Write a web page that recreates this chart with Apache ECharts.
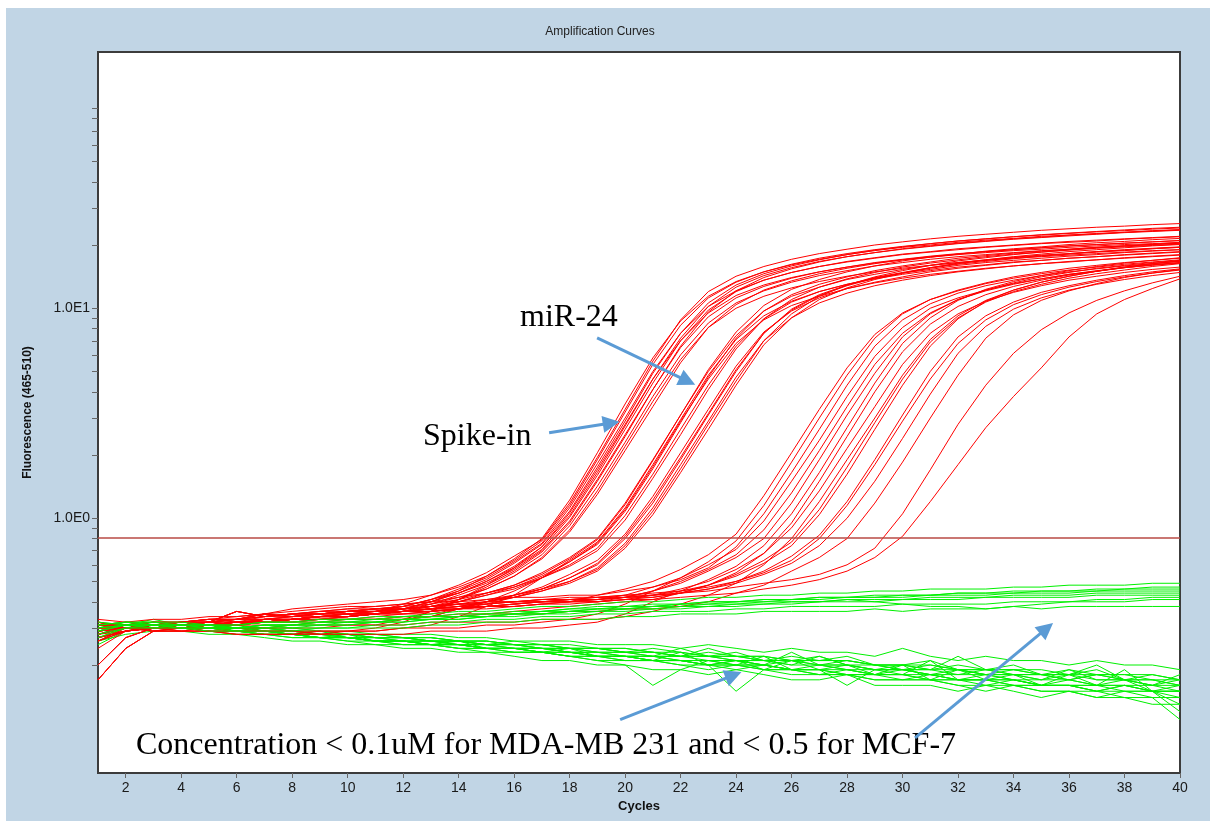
<!DOCTYPE html>
<html>
<head>
<meta charset="utf-8">
<title>Amplification Curves</title>
<script src="https://cdn.jsdelivr.net/npm/echarts@6.0.0/dist/echarts.min.js"></script>
<style>
  html, body { margin: 0; padding: 0; background: #fff; }
  #chart { position: absolute; left: 6px; top: 8px; width: 1204px; height: 813px; }
</style>
</head>
<body>
<div id="chart"></div>
<script>
// cycle numbers 1..40
const cycles = [1,2,3,4,5,6,7,8,9,10,11,12,13,14,15,16,17,18,19,20,
  21,22,23,24,25,26,27,28,29,30,31,32,33,34,35,36,37,38,39,40];

const xTickValues = [2,4,6,8,10,12,14,16,18,20,22,24,26,28,30,32,34,36,38,40];
const yTickValues = [0.2,0.3,0.4,0.5,0.6,0.7,0.8,0.9,1,2,3,4,5,6,7,8,9,10,20,30,40,50,60,70,80,90];
const yLabelValues = [1, 10];
const threshold = 0.81;

// spike-in curves (earliest bundle)
const spikeInCurves = [
  [0.30,0.31,0.30,0.31,0.32,0.31,0.33,0.33,0.34,0.34,
   0.35,0.37,0.40,0.45,0.53,0.64,0.80,1.22,2.05,3.5,
   5.8,8.7,11.4,13.4,14.9,16.1,17.1,18.0,18.8,19.5,
   20.0,20.6,21.1,21.5,22.0,22.3,22.6,23.0,23.3,23.6],
  [0.27,0.29,0.30,0.31,0.31,0.32,0.32,0.33,0.34,0.35,
   0.35,0.37,0.40,0.44,0.49,0.57,0.70,0.97,1.53,2.5,
   4.1,6.5,9.1,11.2,12.7,13.9,14.9,15.7,16.5,17.1,
   17.7,18.2,18.6,19.0,19.4,19.8,20.1,20.4,20.7,21.0],
  [0.32,0.30,0.31,0.32,0.32,0.33,0.35,0.34,0.35,0.36,
   0.36,0.38,0.41,0.46,0.52,0.62,0.76,1.12,1.82,3.0,
   5.0,7.6,10.2,12.1,13.6,14.8,15.8,16.7,17.4,18.1,
   18.6,19.2,19.6,20.0,20.4,20.8,21.1,21.4,21.7,22.0],
  [0.28,0.30,0.31,0.31,0.32,0.36,0.34,0.35,0.35,0.36,
   0.37,0.38,0.41,0.45,0.51,0.61,0.75,1.08,1.75,2.9,
   4.9,7.6,10.6,12.9,14.6,15.9,17.0,18.0,18.9,19.6,
   20.3,20.9,21.4,21.9,22.4,22.8,23.2,23.6,24.0,24.3],
  [0.29,0.30,0.29,0.29,0.29,0.28,0.28,0.28,0.29,0.29,
   0.30,0.32,0.36,0.41,0.47,0.55,0.67,0.92,1.42,2.3,
   3.8,6.0,8.5,10.6,12.1,13.3,14.3,15.1,15.9,16.5,
   17.1,17.6,18.0,18.4,18.8,19.1,19.5,19.8,20.1,20.4],
  [0.17,0.24,0.29,0.30,0.31,0.32,0.32,0.33,0.34,0.34,
   0.35,0.37,0.40,0.44,0.50,0.59,0.73,1.03,1.65,2.75,
   4.6,7.2,10.2,12.6,14.3,15.6,16.7,17.6,18.4,19.1,
   19.7,20.3,20.8,21.3,21.7,22.1,22.5,22.9,23.2,23.5],
  [0.20,0.27,0.30,0.30,0.31,0.31,0.32,0.33,0.33,0.34,
   0.35,0.36,0.39,0.42,0.46,0.53,0.64,0.86,1.30,2.1,
   3.4,5.5,8.1,10.4,12.2,13.5,14.6,15.5,16.3,17.0,
   17.6,18.1,18.6,19.0,19.4,19.8,20.1,20.4,20.7,21.0],
  [0.31,0.32,0.31,0.32,0.33,0.32,0.34,0.34,0.35,0.35,
   0.36,0.39,0.43,0.48,0.55,0.66,0.79,1.18,1.95,3.3,
   5.6,8.8,12.0,14.2,15.8,17.1,18.2,19.1,20.0,20.7,
   21.4,22.0,22.5,23.0,23.5,23.9,24.3,24.6,25.0,25.3],
  [0.24,0.29,0.31,0.32,0.33,0.34,0.35,0.37,0.38,0.39,
   0.40,0.41,0.43,0.47,0.53,0.63,0.78,1.15,1.90,3.2,
   5.4,8.3,11.2,13.3,14.9,16.2,17.3,18.2,19.0,19.7,
   20.3,20.9,21.4,21.9,22.3,22.7,23.1,23.4,23.8,24.1],
  [0.30,0.30,0.29,0.29,0.30,0.29,0.30,0.30,0.30,0.31,
   0.31,0.33,0.36,0.41,0.48,0.58,0.73,1.06,1.70,2.8,
   4.6,7.0,9.5,11.5,12.9,14.0,14.9,15.7,16.4,17.0,
   17.5,18.0,18.4,18.8,19.1,19.5,19.8,20.1,20.3,20.6],
  [0.31,0.31,0.32,0.32,0.33,0.33,0.34,0.35,0.36,0.36,
   0.37,0.38,0.41,0.44,0.50,0.58,0.71,1.01,1.60,2.65,
   4.4,7.0,9.8,12.0,13.6,14.8,15.8,16.6,17.3,18.0,
   18.5,19.0,19.5,19.9,20.3,20.6,20.9,21.3,21.6,21.9],
  [0.26,0.30,0.31,0.31,0.32,0.33,0.33,0.34,0.35,0.35,
   0.36,0.37,0.39,0.43,0.48,0.56,0.69,0.95,1.50,2.45,
   4.1,6.6,9.6,12.1,14.0,15.4,16.6,17.6,18.4,19.2,
   19.8,20.4,20.9,21.4,21.8,22.3,22.7,23.0,23.4,23.7],
  [0.29,0.31,0.31,0.31,0.32,0.32,0.33,0.33,0.34,0.34,
   0.35,0.36,0.38,0.41,0.46,0.53,0.65,0.88,1.35,2.2,
   3.6,5.7,8.1,10.0,11.4,12.5,13.4,14.2,14.9,15.5,
   16.0,16.5,16.9,17.3,17.6,17.9,18.2,18.5,18.8,19.0]
];

// miR-24 curves (second bundle)
const mir24Curves = [
  [0.27,0.29,0.30,0.31,0.31,0.32,0.32,0.33,0.34,0.35,
   0.35,0.36,0.37,0.40,0.44,0.48,0.55,0.65,0.80,1.18,
   1.90,3.1,5.0,7.4,9.7,11.4,12.6,13.7,14.5,15.3,
   16.0,16.5,17.0,17.5,17.9,18.2,18.6,18.9,19.2,19.5],
  [0.30,0.30,0.29,0.29,0.29,0.28,0.28,0.28,0.28,0.29,
   0.29,0.30,0.31,0.34,0.38,0.43,0.52,0.63,0.77,1.12,
   1.80,2.95,4.8,7.1,9.2,10.8,12.0,13.0,13.8,14.5,
   15.1,15.7,16.1,16.6,16.9,17.3,17.6,17.9,18.2,18.5],
  [0.28,0.30,0.31,0.31,0.32,0.36,0.34,0.35,0.35,0.36,
   0.37,0.37,0.38,0.40,0.43,0.47,0.53,0.62,0.75,1.08,
   1.72,2.85,4.7,7.2,9.7,11.6,13.0,14.1,15.1,15.9,
   16.6,17.3,17.8,18.3,18.7,19.1,19.5,19.8,20.1,20.4],
  [0.32,0.30,0.31,0.32,0.32,0.33,0.35,0.34,0.35,0.36,
   0.36,0.37,0.38,0.40,0.43,0.46,0.52,0.60,0.72,1.03,
   1.62,2.65,4.3,6.6,8.9,10.7,12.0,13.0,13.9,14.7,
   15.3,16.0,16.5,16.9,17.3,17.7,18.0,18.4,18.7,19.0],
  [0.29,0.30,0.31,0.31,0.31,0.32,0.32,0.32,0.33,0.33,
   0.33,0.34,0.34,0.37,0.40,0.43,0.47,0.54,0.63,0.84,
   1.27,2.05,3.3,5.3,7.7,9.7,11.2,12.4,13.3,14.1,
   14.9,15.5,16.0,16.5,16.9,17.3,17.6,18.0,18.3,18.6],
  [0.17,0.24,0.29,0.30,0.31,0.32,0.32,0.33,0.34,0.34,
   0.35,0.36,0.37,0.38,0.40,0.43,0.46,0.52,0.60,0.80,
   1.18,1.90,3.1,5.0,7.6,9.9,11.6,12.9,14.0,14.8,
   15.6,16.3,16.9,17.4,17.8,18.2,18.6,19.0,19.3,19.6],
  [0.20,0.27,0.30,0.30,0.31,0.31,0.32,0.33,0.33,0.34,
   0.35,0.35,0.36,0.37,0.39,0.42,0.45,0.50,0.58,0.76,
   1.12,1.80,2.9,4.7,7.0,9.0,10.6,11.8,12.8,13.6,
   14.3,14.9,15.4,15.9,16.3,16.7,17.0,17.4,17.7,18.0],
  [0.27,0.29,0.30,0.31,0.31,0.32,0.32,0.33,0.34,0.35,
   0.35,0.36,0.37,0.38,0.40,0.42,0.45,0.49,0.56,0.72,
   1.04,1.65,2.65,4.3,6.7,9.0,11.0,12.5,13.7,14.7,
   15.6,16.4,17.0,17.6,18.1,18.6,19.0,19.4,19.8,20.1],
  [0.31,0.31,0.32,0.32,0.33,0.33,0.34,0.35,0.36,0.37,
   0.37,0.38,0.39,0.41,0.44,0.48,0.54,0.64,0.79,1.16,
   1.88,3.1,5.1,7.7,10.3,12.3,13.7,14.9,15.9,16.8,
   17.5,18.1,18.7,19.2,19.6,20.1,20.5,20.8,21.2,21.5],
  [0.28,0.29,0.30,0.30,0.30,0.31,0.31,0.31,0.32,0.32,
   0.32,0.33,0.34,0.37,0.40,0.45,0.52,0.62,0.76,1.10,
   1.76,2.9,4.6,6.8,8.8,10.3,11.4,12.4,13.2,13.9,
   14.5,15.0,15.5,15.9,16.3,16.6,17.0,17.3,17.6,17.9],
  [0.33,0.32,0.33,0.33,0.34,0.34,0.35,0.36,0.37,0.38,
   0.38,0.39,0.40,0.42,0.44,0.47,0.52,0.59,0.70,0.98,
   1.55,2.5,4.1,6.4,8.9,11.0,12.6,13.8,14.8,15.7,
   16.4,17.0,17.6,18.1,18.5,18.9,19.3,19.6,19.9,20.2],
  [0.26,0.29,0.30,0.30,0.31,0.31,0.32,0.32,0.33,0.33,
   0.34,0.35,0.35,0.37,0.40,0.42,0.46,0.52,0.61,0.82,
   1.22,1.95,3.15,5.1,7.6,9.8,11.5,12.8,13.9,14.7,
   15.5,16.2,16.7,17.2,17.7,18.1,18.5,18.8,19.2,19.5],
  [0.30,0.30,0.31,0.31,0.32,0.32,0.33,0.34,0.34,0.35,
   0.36,0.36,0.37,0.39,0.41,0.43,0.46,0.50,0.57,0.74,
   1.08,1.72,2.8,4.5,7.0,9.4,11.4,12.9,14.1,15.1,
   16.0,16.8,17.4,18.0,18.5,19.0,19.4,19.8,20.2,20.5]
];

// sample curves (late bundle)
const sampleCurves = [
  [0.30,0.31,0.30,0.31,0.32,0.31,0.33,0.33,0.34,0.34,
   0.35,0.36,0.36,0.37,0.38,0.39,0.40,0.40,0.43,0.46,
   0.50,0.57,0.67,0.84,1.28,2.05,3.3,5.2,7.5,9.5,
   11.0,12.1,13.1,13.9,14.6,15.2,15.7,16.2,16.6,17.0],
  [0.29,0.30,0.30,0.29,0.29,0.29,0.29,0.29,0.29,0.29,
   0.29,0.30,0.30,0.30,0.31,0.31,0.32,0.33,0.35,0.39,
   0.45,0.52,0.62,0.78,1.15,1.85,3.0,4.8,7.2,9.4,
   11.0,12.2,13.2,14.1,14.8,15.5,16.0,16.5,16.9,17.3],
  [0.28,0.30,0.31,0.31,0.32,0.36,0.34,0.35,0.35,0.36,
   0.37,0.37,0.38,0.39,0.40,0.40,0.41,0.41,0.41,0.43,
   0.47,0.52,0.60,0.71,0.97,1.50,2.35,3.8,5.9,8.1,
   10.0,11.2,12.2,13.1,13.8,14.5,15.0,15.6,16.0,16.4],
  [0.32,0.30,0.31,0.32,0.32,0.33,0.35,0.34,0.35,0.36,
   0.36,0.37,0.38,0.39,0.39,0.40,0.40,0.41,0.40,0.42,
   0.45,0.50,0.57,0.67,0.88,1.32,2.1,3.4,5.4,7.6,
   9.5,11.0,12.1,13.0,13.8,14.5,15.1,15.6,16.1,16.5],
  [0.17,0.24,0.29,0.30,0.31,0.32,0.32,0.33,0.34,0.34,
   0.35,0.36,0.37,0.38,0.38,0.39,0.40,0.41,0.41,0.42,
   0.45,0.49,0.56,0.65,0.80,1.18,1.90,3.1,4.9,7.3,
   9.4,11.0,12.2,13.2,14.1,14.8,15.5,16.0,16.5,16.9],
  [0.29,0.30,0.30,0.30,0.29,0.29,0.29,0.29,0.28,0.28,
   0.28,0.28,0.29,0.29,0.29,0.30,0.30,0.31,0.32,0.35,
   0.40,0.45,0.51,0.59,0.74,1.05,1.65,2.7,4.4,6.8,
   9.0,10.9,12.3,13.4,14.3,15.1,15.8,16.4,16.9,17.4],
  [0.20,0.27,0.30,0.30,0.31,0.31,0.32,0.33,0.33,0.34,
   0.35,0.35,0.36,0.37,0.37,0.38,0.39,0.39,0.40,0.41,
   0.43,0.46,0.50,0.57,0.68,0.90,1.35,2.15,3.4,5.4,
   7.6,9.4,10.8,11.9,12.8,13.6,14.2,14.8,15.3,15.7],
  [0.27,0.29,0.30,0.31,0.31,0.32,0.32,0.33,0.34,0.35,
   0.35,0.36,0.37,0.37,0.38,0.38,0.39,0.40,0.40,0.41,
   0.42,0.44,0.48,0.54,0.63,0.77,1.10,1.75,2.85,4.6,
   6.9,9.0,10.7,12.0,13.0,13.9,14.6,15.2,15.8,16.3],
  [0.30,0.31,0.30,0.31,0.32,0.31,0.33,0.33,0.34,0.34,
   0.35,0.36,0.36,0.37,0.38,0.39,0.40,0.40,0.41,0.42,
   0.43,0.45,0.48,0.53,0.61,0.74,1.04,1.62,2.65,4.3,
   6.6,8.9,10.8,12.2,13.3,14.2,15.0,15.7,16.3,16.8],
  [0.28,0.30,0.31,0.31,0.32,0.36,0.34,0.35,0.35,0.36,
   0.37,0.37,0.38,0.39,0.40,0.40,0.41,0.41,0.42,0.42,
   0.42,0.44,0.46,0.50,0.56,0.66,0.83,1.20,1.90,3.1,
   5.0,7.3,9.2,10.7,11.9,12.8,13.6,14.3,14.9,15.4],
  [0.32,0.30,0.31,0.32,0.32,0.33,0.35,0.34,0.35,0.36,
   0.36,0.37,0.38,0.39,0.39,0.40,0.41,0.42,0.42,0.43,
   0.43,0.44,0.46,0.49,0.54,0.61,0.74,1.00,1.50,2.4,
   3.9,6.1,8.2,9.9,11.2,12.2,13.0,13.7,14.3,14.8],
  [0.29,0.30,0.31,0.31,0.31,0.32,0.32,0.32,0.33,0.33,
   0.33,0.34,0.34,0.34,0.35,0.35,0.35,0.36,0.36,0.37,
   0.37,0.38,0.40,0.44,0.48,0.56,0.65,0.80,1.18,1.85,
   3.0,4.8,7.2,9.3,10.9,12.1,13.1,14.0,14.7,15.3],
  [0.31,0.31,0.32,0.32,0.33,0.33,0.34,0.35,0.36,0.37,
   0.38,0.39,0.40,0.40,0.41,0.42,0.42,0.43,0.43,0.45,
   0.47,0.51,0.58,0.73,1.05,1.65,2.65,4.3,6.6,8.8,
   10.5,11.8,12.8,13.6,14.3,14.9,15.4,15.9,16.3,16.7],
  [0.29,0.30,0.30,0.31,0.31,0.31,0.32,0.32,0.32,0.33,
   0.33,0.33,0.34,0.35,0.35,0.36,0.37,0.38,0.39,0.40,
   0.41,0.44,0.48,0.55,0.68,0.95,1.50,2.45,4.0,6.2,
   8.4,10.2,11.6,12.7,13.6,14.4,15.0,15.6,16.1,16.5],
  [0.26,0.29,0.30,0.30,0.30,0.30,0.30,0.31,0.31,0.31,
   0.31,0.31,0.32,0.32,0.32,0.32,0.33,0.33,0.33,0.34,
   0.36,0.39,0.43,0.49,0.60,0.80,1.20,1.90,3.0,4.8,
   7.1,9.2,10.9,12.2,13.3,14.2,15.0,15.7,16.3,16.8],
  [0.30,0.31,0.31,0.32,0.32,0.33,0.33,0.34,0.35,0.35,
   0.36,0.37,0.37,0.38,0.39,0.40,0.40,0.41,0.42,0.43,
   0.44,0.45,0.47,0.50,0.55,0.63,0.80,1.15,1.80,2.9,
   4.6,6.8,8.8,10.4,11.6,12.6,13.4,14.1,14.7,15.2],
  [0.27,0.29,0.30,0.31,0.31,0.32,0.32,0.33,0.34,0.35,
   0.35,0.36,0.37,0.37,0.38,0.38,0.39,0.40,0.40,0.41,
   0.41,0.42,0.43,0.44,0.46,0.48,0.51,0.56,0.65,0.82,
   1.2,1.8,2.7,3.8,5.2,7.3,9.4,11.0,12.4,13.8],
  [0.30,0.31,0.30,0.31,0.32,0.31,0.33,0.33,0.34,0.34,
   0.35,0.36,0.36,0.37,0.38,0.39,0.40,0.40,0.41,0.42,
   0.43,0.44,0.45,0.47,0.49,0.51,0.54,0.60,0.72,1.05,
   1.7,2.8,4.3,6.1,7.9,9.5,10.9,12.1,13.2,14.2]
];

// negative wells, falling baseline (lower green band)
const negLowCurves = [
  [0.27,0.30,0.32,0.31,0.30,0.30,0.29,0.28,0.28,0.27,
   0.27,0.26,0.26,0.25,0.25,0.24,0.24,0.23,0.23,0.22,
   0.22,0.22,0.21,0.21,0.20,0.21,0.20,0.19,0.19,0.19,
   0.18,0.19,0.18,0.18,0.17,0.18,0.17,0.17,0.16,0.16],
  [0.30,0.32,0.31,0.31,0.31,0.30,0.30,0.29,0.28,0.28,
   0.27,0.27,0.27,0.26,0.26,0.25,0.25,0.24,0.24,0.23,
   0.24,0.23,0.22,0.22,0.21,0.22,0.21,0.21,0.20,0.20,
   0.19,0.20,0.19,0.19,0.18,0.19,0.18,0.18,0.17,0.17],
  [0.25,0.29,0.30,0.30,0.29,0.29,0.28,0.27,0.27,0.26,
   0.26,0.25,0.25,0.24,0.24,0.23,0.23,0.22,0.22,0.21,
   0.21,0.20,0.20,0.19,0.20,0.19,0.19,0.18,0.18,0.17,
   0.18,0.17,0.17,0.16,0.16,0.16,0.15,0.16,0.15,0.15],
  [0.28,0.31,0.33,0.31,0.30,0.31,0.29,0.28,0.29,0.27,
   0.27,0.27,0.26,0.26,0.25,0.25,0.24,0.24,0.23,0.23,
   0.22,0.24,0.22,0.21,0.21,0.20,0.22,0.20,0.19,0.20,
   0.19,0.18,0.19,0.18,0.17,0.19,0.17,0.17,0.16,0.17],
  [0.31,0.30,0.31,0.30,0.30,0.29,0.28,0.28,0.27,0.27,
   0.26,0.26,0.25,0.25,0.24,0.24,0.23,0.23,0.22,0.22,
   0.21,0.21,0.20,0.20,0.19,0.19,0.18,0.19,0.18,0.18,
   0.17,0.17,0.16,0.17,0.16,0.16,0.15,0.15,0.15,0.14],
  [0.26,0.30,0.31,0.31,0.30,0.30,0.29,0.29,0.28,0.28,
   0.27,0.27,0.26,0.26,0.25,0.26,0.25,0.24,0.24,0.23,
   0.23,0.22,0.23,0.22,0.21,0.21,0.20,0.21,0.20,0.19,
   0.19,0.19,0.18,0.18,0.18,0.17,0.18,0.17,0.17,0.16],
  [0.29,0.31,0.30,0.31,0.30,0.29,0.29,0.28,0.27,0.27,
   0.26,0.26,0.26,0.25,0.24,0.24,0.24,0.23,0.22,0.22,
   0.22,0.21,0.20,0.21,0.20,0.19,0.20,0.19,0.18,0.19,
   0.18,0.17,0.18,0.17,0.16,0.17,0.16,0.16,0.15,0.13],
  [0.30,0.32,0.32,0.31,0.31,0.30,0.29,0.29,0.28,0.28,
   0.27,0.27,0.26,0.26,0.25,0.25,0.24,0.24,0.23,0.23,
   0.22,0.22,0.22,0.21,0.21,0.20,0.20,0.20,0.19,0.19,
   0.18,0.18,0.18,0.17,0.17,0.17,0.16,0.16,0.16,0.15],
  [0.27,0.29,0.31,0.30,0.29,0.28,0.28,0.27,0.27,0.26,
   0.25,0.25,0.25,0.24,0.23,0.23,0.23,0.22,0.21,0.21,
   0.21,0.20,0.19,0.20,0.19,0.18,0.18,0.18,0.17,0.17,
   0.17,0.16,0.16,0.16,0.15,0.15,0.15,0.14,0.14,0.14],
  [0.29,0.31,0.31,0.30,0.30,0.29,0.29,0.28,0.28,0.27,
   0.26,0.26,0.25,0.25,0.24,0.24,0.23,0.22,0.21,0.20,
   0.16,0.19,0.21,0.20,0.20,0.19,0.19,0.18,0.18,0.18,
   0.17,0.17,0.17,0.16,0.16,0.16,0.15,0.16,0.15,0.15],
  [0.28,0.30,0.31,0.31,0.30,0.30,0.29,0.28,0.28,0.27,
   0.27,0.26,0.26,0.25,0.25,0.24,0.24,0.23,0.23,0.22,
   0.22,0.21,0.21,0.21,0.20,0.23,0.20,0.20,0.19,0.19,
   0.19,0.22,0.19,0.18,0.18,0.18,0.20,0.17,0.17,0.16],
  [0.30,0.31,0.30,0.30,0.30,0.29,0.28,0.28,0.27,0.27,
   0.26,0.26,0.25,0.25,0.24,0.24,0.24,0.23,0.22,0.22,
   0.21,0.21,0.21,0.20,0.20,0.19,0.19,0.16,0.19,0.18,
   0.18,0.17,0.17,0.17,0.16,0.16,0.16,0.15,0.15,0.12],
  [0.31,0.32,0.31,0.31,0.31,0.30,0.30,0.29,0.29,0.28,
   0.28,0.27,0.27,0.26,0.26,0.25,0.25,0.24,0.24,0.24,
   0.23,0.23,0.22,0.22,0.22,0.21,0.21,0.21,0.20,0.20,
   0.20,0.19,0.19,0.19,0.19,0.18,0.18,0.18,0.18,0.17],
  [0.26,0.29,0.30,0.30,0.30,0.29,0.28,0.28,0.27,0.27,
   0.26,0.25,0.25,0.24,0.24,0.23,0.23,0.22,0.22,0.21,
   0.21,0.21,0.20,0.20,0.22,0.19,0.19,0.19,0.18,0.18,
   0.21,0.17,0.17,0.17,0.16,0.16,0.16,0.19,0.15,0.15],
  [0.32,0.31,0.32,0.31,0.31,0.31,0.30,0.30,0.29,0.29,
   0.28,0.28,0.28,0.27,0.27,0.26,0.26,0.26,0.25,0.25,
   0.25,0.24,0.25,0.24,0.23,0.24,0.23,0.23,0.22,0.24,
   0.22,0.21,0.22,0.21,0.21,0.20,0.21,0.20,0.20,0.19],
  [0.26,0.28,0.29,0.29,0.28,0.28,0.27,0.26,0.26,0.25,
   0.25,0.24,0.24,0.23,0.23,0.22,0.21,0.21,0.20,0.20,
   0.19,0.19,0.18,0.19,0.18,0.17,0.17,0.18,0.16,0.16,
   0.16,0.15,0.16,0.15,0.14,0.15,0.14,0.14,0.13,0.13],
  [0.29,0.30,0.31,0.30,0.31,0.29,0.29,0.28,0.27,0.28,
   0.26,0.26,0.25,0.26,0.24,0.24,0.23,0.24,0.22,0.22,
   0.21,0.23,0.20,0.21,0.19,0.21,0.19,0.20,0.18,0.20,
   0.17,0.19,0.17,0.18,0.16,0.18,0.16,0.17,0.15,0.16],
  [0.30,0.31,0.31,0.31,0.30,0.30,0.30,0.29,0.29,0.28,
   0.28,0.27,0.27,0.26,0.26,0.25,0.25,0.25,0.24,0.24,
   0.23,0.22,0.24,0.22,0.22,0.21,0.21,0.22,0.20,0.20,
   0.21,0.19,0.19,0.20,0.18,0.18,0.19,0.17,0.18,0.17],
  [0.28,0.30,0.30,0.30,0.29,0.29,0.28,0.28,0.27,0.27,
   0.26,0.26,0.25,0.25,0.24,0.24,0.23,0.23,0.22,0.22,
   0.21,0.21,0.20,0.15,0.19,0.19,0.18,0.18,0.17,0.17,
   0.17,0.16,0.15,0.16,0.15,0.15,0.14,0.15,0.14,0.11],
  [0.31,0.31,0.31,0.31,0.31,0.30,0.30,0.29,0.28,0.28,
   0.27,0.27,0.26,0.26,0.25,0.25,0.24,0.24,0.24,0.23,
   0.23,0.22,0.22,0.23,0.21,0.21,0.22,0.20,0.20,0.19,
   0.20,0.19,0.18,0.19,0.18,0.17,0.18,0.17,0.16,0.18]
];

// negative wells, slowly rising baseline (upper green band)
const negHighCurves = [
  [0.29,0.31,0.31,0.30,0.30,0.30,0.31,0.30,0.31,0.31,
   0.32,0.32,0.33,0.33,0.34,0.34,0.35,0.35,0.36,0.36,
   0.37,0.37,0.38,0.38,0.39,0.39,0.40,0.40,0.40,0.41,
   0.41,0.41,0.42,0.42,0.42,0.42,0.43,0.43,0.43,0.43],
  [0.31,0.32,0.31,0.31,0.31,0.31,0.32,0.32,0.32,0.33,
   0.33,0.34,0.34,0.35,0.35,0.36,0.36,0.37,0.38,0.38,
   0.39,0.39,0.40,0.40,0.41,0.41,0.42,0.42,0.42,0.43,
   0.43,0.44,0.44,0.44,0.45,0.45,0.45,0.46,0.46,0.46],
  [0.27,0.30,0.31,0.30,0.30,0.29,0.30,0.30,0.30,0.30,
   0.31,0.31,0.32,0.32,0.33,0.33,0.34,0.34,0.35,0.35,
   0.36,0.36,0.36,0.37,0.37,0.38,0.38,0.38,0.38,0.39,
   0.39,0.39,0.39,0.40,0.40,0.40,0.40,0.40,0.41,0.41],
  [0.30,0.31,0.32,0.31,0.31,0.30,0.31,0.31,0.32,0.32,
   0.33,0.33,0.34,0.34,0.35,0.35,0.36,0.37,0.37,0.38,
   0.38,0.39,0.40,0.40,0.41,0.41,0.42,0.42,0.43,0.43,
   0.43,0.44,0.44,0.45,0.45,0.45,0.46,0.46,0.47,0.47],
  [0.28,0.30,0.30,0.30,0.29,0.29,0.29,0.29,0.30,0.30,
   0.30,0.30,0.31,0.31,0.32,0.32,0.33,0.33,0.33,0.34,
   0.34,0.35,0.35,0.35,0.36,0.36,0.36,0.36,0.37,0.36,
   0.37,0.37,0.37,0.38,0.37,0.38,0.38,0.38,0.38,0.38],
  [0.31,0.32,0.32,0.32,0.31,0.31,0.32,0.32,0.33,0.33,
   0.34,0.34,0.35,0.36,0.36,0.37,0.38,0.38,0.39,0.40,
   0.40,0.41,0.42,0.42,0.43,0.43,0.44,0.44,0.45,0.45,
   0.46,0.46,0.46,0.47,0.47,0.48,0.48,0.48,0.49,0.49],
  [0.29,0.31,0.30,0.31,0.30,0.30,0.30,0.31,0.31,0.31,
   0.32,0.32,0.33,0.33,0.34,0.35,0.35,0.36,0.36,0.37,
   0.37,0.38,0.38,0.39,0.39,0.40,0.40,0.41,0.41,0.41,
   0.42,0.42,0.42,0.43,0.43,0.43,0.44,0.44,0.44,0.44],
  [0.30,0.31,0.31,0.31,0.30,0.30,0.31,0.31,0.31,0.32,
   0.32,0.33,0.33,0.34,0.34,0.35,0.35,0.36,0.37,0.37,
   0.38,0.38,0.39,0.39,0.40,0.40,0.40,0.41,0.40,0.39,
   0.38,0.38,0.37,0.38,0.39,0.40,0.41,0.41,0.42,0.42],
  [0.32,0.31,0.31,0.31,0.31,0.30,0.31,0.31,0.32,0.32,
   0.32,0.33,0.33,0.34,0.34,0.35,0.36,0.36,0.37,0.37,
   0.38,0.39,0.39,0.40,0.40,0.41,0.41,0.42,0.42,0.42,
   0.43,0.43,0.43,0.44,0.44,0.44,0.45,0.45,0.45,0.45]
];

// annotation arrows in data coordinates [cycle, fluorescence]
const arrowLines = [
  [[18.99, 7.22], [22.25, 4.50]],
  [[17.26, 2.55], [19.50, 2.84]],
  [[19.82, 0.110], [23.91, 0.179]],
  [[30.45, 0.090], [35.19, 0.299]]
];

const RED = '#ff0000';
const GREEN = '#00f000';
const LABEL_FONT = 'Liberation Sans';
const NOTE_FONT = '32px "Liberation Serif", "Times New Roman", serif';

const curveSeries = (curves, color, z) => curves.map(vals => ({
  type: 'line',
  data: vals.map((v, i) => [cycles[i], v]),
  symbol: 'none',
  silent: true,
  z: z,
  lineStyle: { width: 1, color: color },
  itemStyle: { color: color },
  emphasis: { disabled: true }
}));

const note = (text, x, y) => ({
  type: 'text',
  x: x,
  y: y,
  silent: true,
  style: {
    text: text,
    font: NOTE_FONT,
    fill: '#000',
    verticalAlign: 'middle',
    textVerticalAlign: 'middle'
  }
});

const chart = echarts.init(document.getElementById('chart'));

chart.setOption({
  animation: false,
  backgroundColor: '#c1d5e5',
  grid: {
    left: 92,
    right: 30,
    top: 44,
    bottom: 48,
    show: true,
    backgroundColor: '#ffffff',
    borderColor: '#3c3c3c',
    borderWidth: 2
  },
  xAxis: {
    type: 'value',
    min: 1,
    max: 40,
    name: 'Cycles',
    nameLocation: 'middle',
    nameGap: 26,
    nameTextStyle: { fontFamily: LABEL_FONT, fontSize: 13, fontWeight: 'bold', color: '#111' },
    axisLine: { show: false },
    splitLine: { show: false },
    axisTick: { show: true, length: 5, customValues: xTickValues, lineStyle: { color: '#666' } },
    axisLabel: { customValues: xTickValues, margin: 8, fontFamily: LABEL_FONT, fontSize: 14, color: '#1a1a1a' }
  },
  yAxis: {
    type: 'log',
    logBase: 10,
    min: 0.0612,
    max: 166,
    name: 'Fluorescence (465-510)',
    nameLocation: 'middle',
    nameGap: 64,
    nameTextStyle: { fontFamily: LABEL_FONT, fontSize: 12, fontWeight: 'bold', color: '#111' },
    axisLine: { show: false },
    splitLine: { show: false },
    minorTick: { show: false },
    axisTick: { show: true, length: 6, customValues: yTickValues, lineStyle: { color: '#666' } },
    axisLabel: {
      customValues: yLabelValues,
      margin: 8,
      fontFamily: LABEL_FONT,
      fontSize: 14,
      color: '#1a1a1a',
      formatter: v => (Math.abs(v - 1) < 1e-6 ? '1.0E0' : Math.abs(v - 10) < 1e-6 ? '1.0E1' : '')
    }
  },
  graphic: [
    {
      type: 'text',
      x: 594,
      y: 24,
      silent: true,
      style: {
        text: 'Amplification Curves',
        font: '12px "Liberation Sans", sans-serif',
        fill: '#222',
        align: 'center',
        textAlign: 'center',
        verticalAlign: 'middle',
        textVerticalAlign: 'middle'
      }
    },
    note('miR-24', 514, 310),
    note('Spike-in', 417, 429),
    note('Concentration < 0.1uM for MDA-MB 231 and < 0.5 for MCF-7', 130, 738)
  ],
  series: [
    ...curveSeries(negLowCurves, GREEN, 2),
    ...curveSeries(spikeInCurves, RED, 3),
    ...curveSeries(mir24Curves, RED, 3),
    ...curveSeries(sampleCurves, RED, 3),
    ...curveSeries(negHighCurves, GREEN, 4),
    {
      type: 'line',
      data: [],
      silent: true,
      z: 5,
      markLine: {
        silent: true,
        symbol: 'none',
        label: { show: false },
        emphasis: { disabled: true },
        lineStyle: { color: '#b94a44', width: 1.5, type: 'solid' },
        data: [{ yAxis: threshold }]
      }
    },
    {
      type: 'line',
      data: [],
      silent: true,
      z: 6,
      markLine: {
        silent: true,
        symbol: ['none', 'triangle'],
        symbolSize: 17,
        label: { show: false },
        emphasis: { disabled: true },
        lineStyle: { color: '#5b9bd5', width: 3, type: 'solid' },
        data: arrowLines.map(a => [{ coord: a[0] }, { coord: a[1] }])
      }
    }
  ]
});
</script>
</body>
</html>
